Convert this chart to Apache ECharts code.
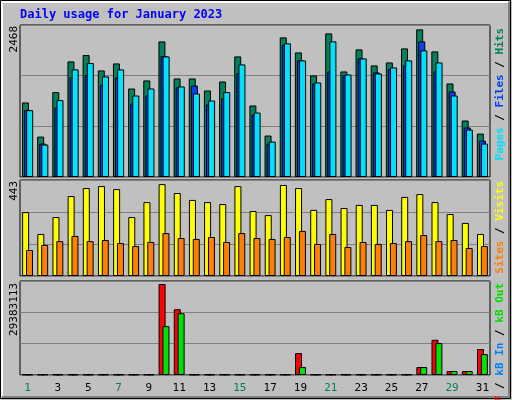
<!DOCTYPE html>
<html><head><meta charset="utf-8">
<script src="https://cdn.jsdelivr.net/npm/echarts@6/dist/echarts.min.js"></script>
<style>html,body{margin:0;padding:0;background:#c0c0c0}#c{width:512px;height:400px}</style>
</head><body><div id="c"></div>
<script>
const days = Array.from({length:31},(_,i)=>String(i+1));
const weekendDays = ['1','7','8','14','15','21','22','28','29'];
const hits  = [1210,656,1378,1877,1980,1730,1844,1437,1568,2202,1600,1600,1405,1551,1958,1161,673,2267,2023,1649,2332,1714,2072,1812,1860,2088,2397,2039,1519,917,705];
const files = [1085,542,1128,1616,1654,1492,1616,1193,1323,1963,1454,1486,1177,1275,1687,1014,542,2142,1893,1519,1714,1654,1925,1698,1752,1812,2202,1714,1389,803,591];
const pages = [1085,526,1248,1747,1850,1633,1747,1323,1437,1958,1470,1356,1242,1378,1828,1047,575,2170,1893,1535,2202,1665,1925,1681,1779,1893,2056,1860,1323,770,542];
const visits= [295,194,272,369,406,415,401,272,341,424,383,351,341,332,415,300,281,420,406,305,355,314,328,328,305,365,378,341,286,245,194];
const sites = [120,143,161,185,161,166,152,138,157,198,175,171,180,157,198,175,171,180,208,148,194,134,157,148,152,161,189,161,166,129,138];
const kbF   = [150000,150000,150000,150000,150000,150000,150000,150000,150000,28450000,20560000,150000,150000,150000,150000,150000,150000,150000,6850000,150000,150000,150000,150000,150000,150000,150000,2490000,11000000,1250000,1250000,8100000];
const kbIn  = [0,0,0,0,0,0,0,0,0,0,0,0,0,0,0,0,0,0,0,0,0,0,0,0,0,0,0,0,0,0,0];
const kbOut = [150000,150000,150000,150000,150000,150000,150000,150000,150000,15260000,19310000,150000,150000,150000,150000,150000,150000,150000,2490000,150000,150000,150000,150000,150000,150000,150000,2490000,9970000,1250000,1250000,6540000];
const maxHits = 2468, maxVisits = 443, maxKB = 29383113;

const F = 'DejaVu Sans Mono, monospace';
const chart = echarts.init(document.getElementById('c'));
const grids = [
  {left:20, top:25, width:470, height:152},
  {left:20, top:180, width:470, height:96},
  {left:20, top:281, width:470, height:94}
].map(g=>Object.assign(g,{show:true,borderColor:'#000',borderWidth:1,backgroundColor:'transparent'}));
function xa(i,show){return {type:'category',gridIndex:i,data:days,boundaryGap:true,
  axisLine:{show:false},axisTick:{show:false},
  axisLabel:{show:show,fontFamily:F,fontSize:11,margin:8,
    color:(v)=>weekendDays.includes(v)?'#00805c':'#000'}};}
function ya(i,max){return {type:'value',gridIndex:i,min:0,max:max,interval:max/3,
  axisLabel:{show:false},axisLine:{show:false},axisTick:{show:false},
  splitLine:{lineStyle:{color:'#808080',width:1}}};}
function bar(name,data,color,xi,gap){return {name,type:'bar',data,xAxisIndex:xi,yAxisIndex:xi,
  barWidth:7,barGap:gap,itemStyle:{color:color,borderColor:'#000',borderWidth:1},silent:true,animation:false};}
function vtext(x,y,text,rich){return {type:'text',x:x,y:y,rotation:Math.PI/2,
  style:{text:text,rich:rich,font:'11px '+F,fill:'#000',align:'right',verticalAlign:'middle'}};}
const r = (c)=>({fill:c,font:'bold 11px '+F});
chart.setOption({
  backgroundColor:'#c0c0c0',
  animation:false,
  grid:grids,
  xAxis:[xa(0,false),xa(1,false),xa(2,true)],
  yAxis:[ya(0,maxHits),ya(1,maxVisits),ya(2,maxKB)],
  series:[
    bar('Hits',hits,'#00805c',0,'-70%'),
    bar('Files',files,'#0040ff',0,'-70%'),
    bar('Pages',pages,'#00e0ff',0,'-70%'),
    bar('Visits',visits,'#ffff00',1,'-45%'),
    bar('Sites',sites,'#ff8000',1,'-45%'),
    bar('kB F',kbF,'#ff0000',2,'-45%'),
    bar('kB Out',kbOut,'#00e000',2,'-45%')
  ],
  graphic:[
    {type:'rect',shape:{x:0.5,y:0.5,width:510,height:398},style:{fill:'none',stroke:'#000',lineWidth:1}},
    {type:'polyline',shape:{points:[[2,397],[2,2],[508,2]]},style:{stroke:'#fff',lineWidth:2,fill:'none'}},
    {type:'polyline',shape:{points:[[509,2],[509,397],[2,397]]},style:{stroke:'#808080',lineWidth:2,fill:'none'}},
    {type:'text',x:20,y:9,style:{text:'Daily usage for January 2023',font:'bold 12px '+F,fill:'#0000ff'}},
    vtext(14,26,String(maxHits),null),
    vtext(14,181,String(maxVisits),null),
    vtext(14,283,String(maxKB),null),
    vtext(500,28,'{a|Pages}{s| / }{b|Files}{s| / }{c|Hits}',{a:r('#00e0ff'),b:r('#0040ff'),c:r('#00805c'),s:r('#000')}),
    vtext(500,181,'{a|Sites}{s| / }{b|Visits}',{a:r('#ff8000'),b:r('#ffff00'),s:r('#000')}),
    vtext(500,283,'{a|kB F}{s| / }{b|kB In}{s| / }{c|kB Out}',{a:r('#ff0000'),b:r('#0080ff'),c:r('#00e000'),s:r('#000')})
  ]
});
</script></body></html>
